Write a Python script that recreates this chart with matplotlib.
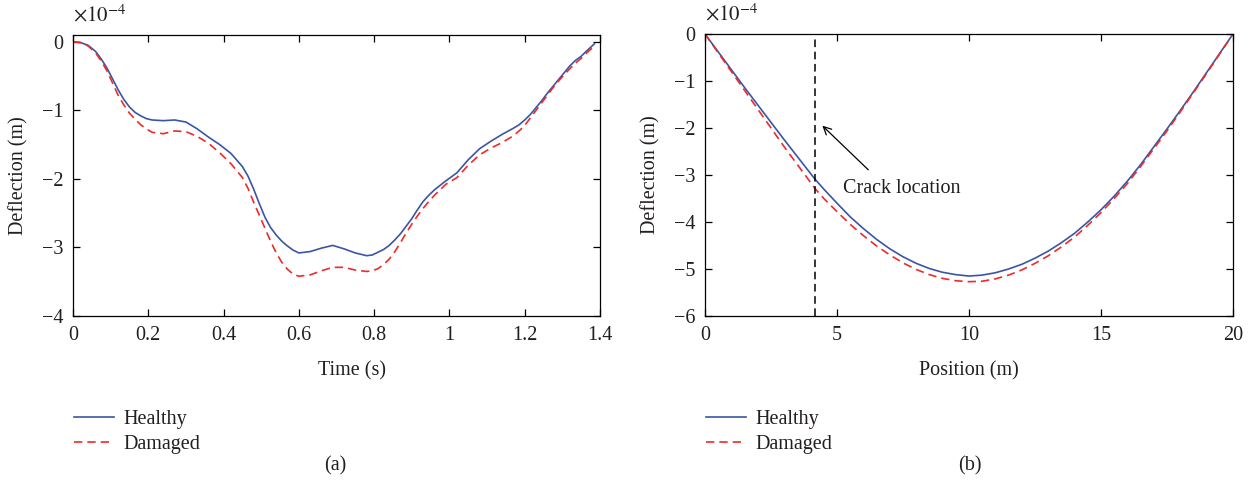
import numpy as np
import matplotlib
matplotlib.use('Agg')
import matplotlib.pyplot as plt

plt.rcParams['font.family'] = ['Liberation Serif', 'DejaVu Serif']
plt.rcParams['mathtext.fontset'] = 'stix'
plt.rcParams['font.size'] = 14

# (a) deflection vs time, units of 1e-4 m
time_s = [0, 0.02, 0.04, 0.06, 0.075, 0.09, 0.105, 0.12, 0.135, 0.15, 0.165, 0.18, 0.195,
          0.21, 0.24, 0.27, 0.30, 0.33, 0.36, 0.39, 0.42, 0.45, 0.465, 0.48, 0.495, 0.51,
          0.525, 0.54, 0.555, 0.57, 0.585, 0.60, 0.63, 0.66, 0.69, 0.72, 0.75, 0.78, 0.795,
          0.81, 0.825, 0.84, 0.855, 0.87, 0.885, 0.90, 0.915, 0.93, 0.945, 0.96, 0.99, 1.02,
          1.05, 1.08, 1.11, 1.14, 1.17, 1.185, 1.20, 1.215, 1.23, 1.245, 1.26, 1.275, 1.29,
          1.305, 1.32, 1.335, 1.35, 1.365, 1.385]
healthy_t = [0, -0.01, -0.05, -0.14, -0.25, -0.38, -0.54, -0.70, -0.84, -0.95, -1.03, -1.08, -1.12,
             -1.14, -1.15, -1.14, -1.17, -1.27, -1.39, -1.50, -1.63, -1.82, -1.96, -2.15, -2.36, -2.56,
             -2.71, -2.82, -2.91, -2.98, -3.04, -3.08, -3.06, -3.01, -2.97, -3.02, -3.08, -3.12, -3.11,
             -3.07, -3.03, -2.97, -2.89, -2.80, -2.69, -2.58, -2.45, -2.33, -2.24, -2.16, -2.03, -1.91,
             -1.72, -1.56, -1.45, -1.35, -1.26, -1.21, -1.14, -1.06, -0.96, -0.86, -0.75, -0.65, -0.55,
             -0.45, -0.35, -0.27, -0.21, -0.13, -0.03]
damaged_t = [0, -0.01, -0.06, -0.16, -0.28, -0.42, -0.60, -0.78, -0.92, -1.04, -1.13, -1.21, -1.27,
             -1.32, -1.34, -1.30, -1.31, -1.38, -1.48, -1.62, -1.78, -1.98, -2.14, -2.34, -2.53, -2.72,
             -2.91, -3.08, -3.22, -3.32, -3.39, -3.42, -3.40, -3.34, -3.29, -3.29, -3.33, -3.35, -3.34,
             -3.31, -3.25, -3.17, -3.06, -2.93, -2.79, -2.66, -2.54, -2.43, -2.33, -2.24, -2.08, -1.98,
             -1.80, -1.65, -1.55, -1.47, -1.37, -1.30, -1.22, -1.11, -1.00, -0.89, -0.78, -0.67, -0.57,
             -0.48, -0.39, -0.31, -0.24, -0.16, -0.06]

# (b) deflection vs position, units of 1e-4 m
pos_m = [0, 0.5, 1, 1.5, 2, 2.5, 3, 3.5, 4, 4.17, 4.5, 5, 5.5, 6, 6.5, 7, 7.5, 8, 8.5, 9, 9.5,
         10, 10.5, 11, 11.5, 12, 12.5, 13, 13.5, 14, 14.5, 15, 15.5, 16, 16.5, 17, 17.5, 18,
         18.5, 19, 19.5, 20]
healthy_x = [0, -0.38, -0.76, -1.14, -1.51, -1.88, -2.25, -2.61, -2.97, -3.09, -3.30, -3.60, -3.89,
             -4.14, -4.37, -4.57, -4.74, -4.88, -4.99, -5.07, -5.12, -5.15, -5.13, -5.08, -5.00,
             -4.90, -4.77, -4.62, -4.44, -4.24, -4.00, -3.74, -3.45, -3.13, -2.78, -2.40, -2.02,
             -1.63, -1.23, -0.82, -0.41, 0]
damaged_x = [0, -0.40, -0.80, -1.20, -1.60, -2.00, -2.40, -2.78, -3.16, -3.29, -3.50, -3.78, -4.05,
             -4.29, -4.51, -4.70, -4.87, -5.01, -5.12, -5.20, -5.25, -5.27, -5.26, -5.21, -5.13,
             -5.02, -4.88, -4.72, -4.53, -4.32, -4.07, -3.80, -3.50, -3.18, -2.82, -2.44, -2.06,
             -1.66, -1.25, -0.84, -0.42, 0]
crack_pos = 4.17

blue = '#3a55a4'
red = '#ee2a2a'
txt = '#231f20'

fig = plt.figure(figsize=(12.58, 4.96), dpi=100)
W, H = 1258, 496


def make_axes(x0, x1, y0, y1):
    ax = fig.add_axes([x0 / W, 1 - y1 / H, (x1 - x0) / W, (y1 - y0) / H])
    ax.tick_params(direction='in', top=True, right=True, length=5, width=0.9,
                   colors='black', labelcolor=txt, labelsize=14.5, pad=7)
    for s in ax.spines.values():
        s.set_linewidth(0.9)
    ax.text(0, 1.03, r'$\times10^{-4}$', transform=ax.transAxes, fontsize=15,
            color=txt, ha='left', va='bottom')
    return ax


def add_legend(ax, x0):
    ax.legend(loc='upper left', bbox_to_anchor=(x0 / W, 1 - 392 / H), bbox_transform=fig.transFigure,
              frameon=False, fontsize=14.5, handlelength=2.0, handletextpad=0.45, labelspacing=0.3,
              labelcolor=txt)


ax1 = make_axes(73, 600, 35, 316)
ax1.plot(time_s, healthy_t, color=blue, lw=1.2, label='Healthy')
ax1.plot(time_s, damaged_t, color=red, lw=1.2, ls=(0, (5, 3)), label='Damaged')
ax1.set_xlim(0, 1.4)
ax1.set_ylim(-4, 0.1)
ax1.set_xticks([0, 0.2, 0.4, 0.6, 0.8, 1.0, 1.2, 1.4])
ax1.set_xticklabels(['0', '0.2', '0.4', '0.6', '0.8', '1', '1.2', '1.4'])
ax1.set_yticks([-4, -3, -2, -1, 0])
ax1.set_xlabel('Time (s)', color=txt, fontsize=14.5)
ax1.set_ylabel('Deflection (m)', color=txt, fontsize=14.5)
ax1.xaxis.set_label_coords((352 - 73) / 527, -0.16)
ax1.yaxis.set_label_coords(-0.085, 0.5)
add_legend(ax1, 56)
fig.text(335 / W, 1 - 466 / H, '(a)', ha='center', va='center', color=txt, fontsize=14.5)

ax2 = make_axes(705, 1233, 34, 316)
ax2.plot(pos_m, healthy_x, color=blue, lw=1.2, label='Healthy')
ax2.plot(pos_m, damaged_x, color=red, lw=1.2, ls=(0, (5, 3)), label='Damaged')
ax2.axvline(crack_pos, color='black', lw=1.1, ls=(0, (5, 3)))
ax2.annotate('', xy=(4.37, -1.91), xytext=(6.26, -2.93),
             arrowprops=dict(arrowstyle='->', color='black', lw=0.9, mutation_scale=14))
ax2.text(5.22, -3.28, 'Crack location', ha='left', va='center', color=txt, fontsize=14.5)
ax2.set_xlim(0, 20)
ax2.set_ylim(-6, 0)
ax2.set_xticks([0, 5, 10, 15, 20])
ax2.set_yticks([-6, -5, -4, -3, -2, -1, 0])
ax2.set_xlabel('Position (m)', color=txt, fontsize=14.5)
ax2.set_ylabel('Deflection (m)', color=txt, fontsize=14.5)
ax2.xaxis.set_label_coords(0.5, -0.16)
ax2.yaxis.set_label_coords(-0.085, 0.5)
add_legend(ax2, 688)
fig.text(970 / W, 1 - 466 / H, '(b)', ha='center', va='center', color=txt, fontsize=14.5)

fig.savefig('out.png', dpi=100)
